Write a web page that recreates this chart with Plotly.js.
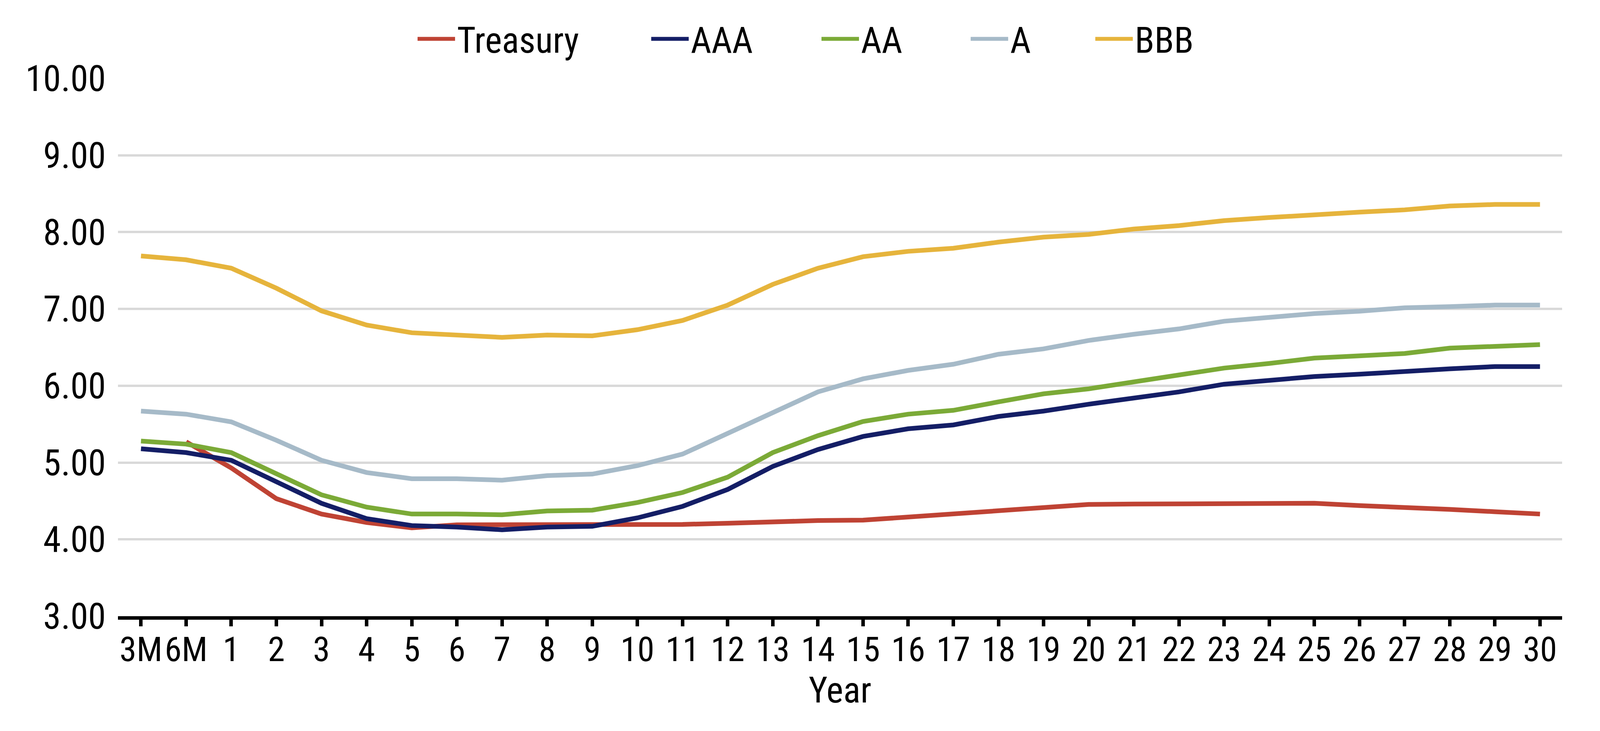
<!DOCTYPE html>
<html>
<head>
<meta charset="utf-8">
<script src="https://cdn.plot.ly/plotly-3.0.1.min.js"></script>
<style>
html, body { margin: 0; padding: 0; background: #ffffff; }
#chart { width: 4167px; height: 1872px; }
</style>
</head>
<body>
<div id="chart"></div>
<script>
// Maturities (category axis)
const categories = ['3M','6M','1','2','3','4','5','6','7','8','9','10','11','12','13','14','15','16','17','18','19','20','21','22','23','24','25','26','27','28','29','30'];

// Yields (%)
const treasury = [null, 5.27, 4.93, 4.53, 4.33, 4.22, 4.15, 4.19, 4.19, 4.19, 4.19, 4.18, 4.195, 4.21, 4.23, 4.245, 4.25, 4.29, 4.33, 4.37, 4.41, 4.455, 4.46, 4.46, 4.465, 4.465, 4.47, 4.44, 4.42, 4.39, 4.36, 4.33];
const aaa = [5.18, 5.13, 5.03, 4.75, 4.47, 4.27, 4.18, 4.16, 4.125, 4.16, 4.17, 4.28, 4.43, 4.65, 4.95, 5.17, 5.34, 5.44, 5.49, 5.60, 5.67, 5.76, 5.84, 5.92, 6.02, 6.07, 6.12, 6.15, 6.19, 6.22, 6.25, 6.25];
const aa = [5.28, 5.24, 5.13, 4.85, 4.58, 4.42, 4.33, 4.33, 4.32, 4.37, 4.38, 4.48, 4.61, 4.81, 5.13, 5.35, 5.535, 5.63, 5.68, 5.79, 5.895, 5.96, 6.05, 6.13, 6.23, 6.29, 6.36, 6.39, 6.42, 6.49, 6.52, 6.535];
const singleA = [5.67, 5.63, 5.53, 5.29, 5.03, 4.87, 4.79, 4.79, 4.77, 4.83, 4.85, 4.96, 5.11, 5.38, 5.66, 5.92, 6.09, 6.20, 6.28, 6.41, 6.48, 6.59, 6.67, 6.74, 6.84, 6.89, 6.94, 6.97, 7.015, 7.03, 7.05, 7.05];
const bbb = [7.69, 7.64, 7.53, 7.27, 6.975, 6.79, 6.69, 6.66, 6.63, 6.66, 6.65, 6.73, 6.85, 7.05, 7.32, 7.53, 7.68, 7.75, 7.79, 7.87, 7.935, 7.97, 8.04, 8.085, 8.15, 8.19, 8.23, 8.26, 8.29, 8.34, 8.36, 8.36];

const seriesNames = ['Treasury', 'AAA', 'AA', 'A', 'BBB'];
const seriesValues = [treasury, aaa, aa, singleA, bbb];
const yTicks = [3, 4, 5, 6, 7, 8, 9, 10];
const xTitle = 'Year';

// Styling
const seriesColors = ['#BF4334', '#141E66', '#7BAA37', '#A6BAC8', '#E6B43C'];
const FONT = '"Roboto Condensed", Roboto, "Noto Sans", sans-serif';
const FS = 92;
const XFS = 88;
const legendIds = ['legend', 'legend2', 'legend3', 'legend4', 'legend5'];
const legendX = [0.2061, 0.3679, 0.4858, 0.5891, 0.6754];

const traces = seriesNames.map((name, i) => ({
  type: 'scatter',
  mode: 'lines',
  name: name,
  x: categories,
  y: seriesValues[i],
  line: { color: seriesColors[i], width: 12 },
  connectgaps: false,
  legend: legendIds[i],
  hoverinfo: 'skip'
}));

const layout = {
  width: 4167,
  height: 1872,
  paper_bgcolor: '#ffffff',
  plot_bgcolor: '#ffffff',
  margin: { l: 302, r: 168, t: 201, b: 294, pad: 0 },
  font: { family: FONT, size: FS, color: '#000000' },
  showlegend: true,
  xaxis: {
    type: 'category',
    range: [-0.51, 31.49],
    tickmode: 'array',
    tickvals: categories,
    ticktext: categories,
    tickangle: 0,
    ticks: 'outside',
    ticklen: 17,
    tickwidth: 9,
    tickcolor: '#000000',
    showline: true,
    linecolor: '#000000',
    linewidth: 9,
    showgrid: false,
    zeroline: false,
    ticklabelstandoff: -17,
    tickfont: { family: FONT, size: XFS, color: '#000000' },
    title: { text: xTitle, font: { family: FONT, size: FS, color: '#000000' }, standoff: 14 }
  },
  yaxis: {
    range: [3, 10],
    tickmode: 'array',
    tickvals: yTicks,
    tickformat: '.2f',
    ticks: '',
    showline: false,
    showgrid: true,
    gridcolor: '#d9d9d9',
    gridwidth: 6,
    zeroline: false,
    ticklabelstandoff: 30,
    tickfont: { family: FONT, size: FS, color: '#000000' }
  }
};

legendIds.forEach((id, i) => {
  layout[id] = {
    orientation: 'h',
    x: legendX[i],
    xanchor: 'left',
    y: 1.0735,
    yanchor: 'middle',
    bgcolor: 'rgba(0,0,0,0)',
    borderwidth: 0,
    itemwidth: 96,
    font: { family: FONT, size: FS, color: '#000000' }
  };
});

Plotly.newPlot('chart', traces, layout, { displayModeBar: false, staticPlot: true });
</script>
</body>
</html>
